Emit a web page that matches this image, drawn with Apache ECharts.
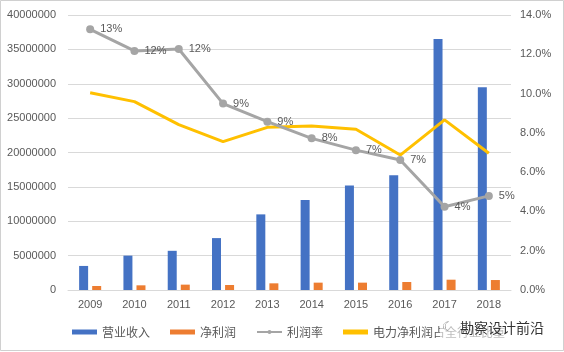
<!DOCTYPE html>
<html>
<head>
<meta charset="utf-8">
<script src="https://cdn.jsdelivr.net/npm/echarts@6/dist/echarts.min.js"></script>
<style>
html,body{margin:0;padding:0;background:#fff;}
#c{width:564px;height:352px;}
</style>
</head>
<body>
<div id="c"></div>
<script>
const years = ['2009','2010','2011','2012','2013','2014','2015','2016','2017','2018'];
const revenue = [3500000, 5000000, 5700000, 7550000, 11000000, 13100000, 15200000, 16700000, 36500000, 29500000];
const netProfit = [580000, 680000, 780000, 730000, 970000, 1070000, 1070000, 1160000, 1500000, 1450000];
const profitRate = [13.27, 12.17, 12.27, 9.49, 8.57, 7.72, 7.12, 6.62, 4.24, 4.79];
const powerShare = [10.04, 9.59, 8.42, 7.55, 8.28, 8.35, 8.18, 6.87, 8.66, 6.96];
const seriesNames = ['营业收入', '净利润', '利润率', '电力净利润占全行业比重'];
const watermark = '勘察设计前沿';

const txt = '#595959';
const grid = '#d9d9d9';
const chart = echarts.init(document.getElementById('c'), null, {renderer: 'canvas'});
chart.setOption({
  animation: false,
  backgroundColor: '#fff',
  grid: {left: 68, right: 53, top: 15, bottom: 62},
  legend: {
    bottom: 14, left: 72, padding: 0,
    itemWidth: 25, itemHeight: 5, itemGap: 20,
    textStyle: {color: txt, fontSize: 12, fontFamily: 'Noto Sans CJK SC'},
    data: [
      {name: seriesNames[0], icon: 'rect'},
      {name: seriesNames[1], icon: 'rect'},
      {name: seriesNames[2]},
      {name: seriesNames[3], icon: 'rect'}
    ]
  },
  xAxis: {
    type: 'category', data: years,
    axisLine: {lineStyle: {color: grid}}, axisTick: {show: false},
    axisLabel: {color: txt, fontSize: 11, margin: 9, fontFamily: 'Liberation Sans'}
  },
  yAxis: [
    {type: 'value', min: 0, max: 40000000, interval: 5000000,
     axisLine: {show: false}, axisTick: {show: false},
     splitLine: {lineStyle: {color: grid}},
     axisLabel: {color: txt, fontSize: 11, margin: 12, fontFamily: 'Liberation Sans',
       formatter: v => String(v)}},
    {type: 'value', min: 0, max: 14, interval: 2,
     axisLine: {show: false}, axisTick: {show: false}, splitLine: {show: false},
     axisLabel: {color: txt, fontSize: 11, margin: 9, fontFamily: 'Liberation Sans',
       formatter: v => v.toFixed(1) + '%'}}
  ],
  series: [
    {name: seriesNames[0], type: 'bar', data: revenue, barWidth: 9, barGap: '45%',
     itemStyle: {color: '#4472C4'}},
    {name: seriesNames[1], type: 'bar', data: netProfit, barWidth: 9,
     itemStyle: {color: '#ED7D31'}},
    {name: seriesNames[2], type: 'line', yAxisIndex: 1, data: profitRate,
     symbol: 'circle', symbolSize: 8,
     lineStyle: {color: '#A5A5A5', width: 3}, itemStyle: {color: '#A5A5A5'},
     label: {show: true, position: 'right', distance: 6, color: txt, fontSize: 11,
       fontFamily: 'Liberation Sans', formatter: p => Math.round(p.value) + '%'},
     z: 3},
    {name: seriesNames[3], type: 'line', yAxisIndex: 1, data: powerShare,
     symbol: 'none', lineStyle: {color: '#FFC000', width: 3}, itemStyle: {color: '#FFC000'}, z: 2}
  ],
  graphic: [
    {type: 'rect', shape: {x: 0.5, y: 0.5, width: 563, height: 350},
     style: {fill: 'none', stroke: '#d0d0d0', lineWidth: 1}, silent: true},
    {type: 'rect', shape: {x: 440, y: 321, width: 104, height: 17},
     style: {fill: 'rgba(255,255,255,0.6)'}, z: 100, silent: true},
    {type: 'text', left: 460, top: 321, z: 101,
     style: {text: watermark, fill: '#333', fontSize: 14, fontFamily: 'Noto Sans CJK SC'}},
    {type: 'text', left: 442, top: 321, z: 101,
     style: {text: '☾', fill: '#888', fontSize: 13}}
  ]
});
</script>
</body>
</html>
